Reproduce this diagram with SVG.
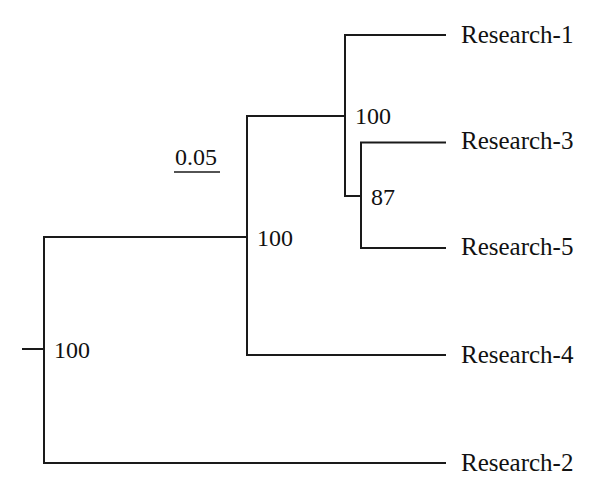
<svg xmlns="http://www.w3.org/2000/svg" width="600" height="494" viewBox="0 0 600 494">
<style>
.e{fill:none;stroke:#1a1a1a;stroke-width:2;stroke-linecap:square}
text{font-family:"Liberation Serif","Times New Roman",serif;font-size:24px;fill:#111}
.lf{font-size:25px}
</style>
<rect width="600" height="494" fill="#fff"/>
<g id="connectors">
<path class="e" d="M23,349H44M44,237V463M44,237H247M44,463H445"/>
<path class="e" d="M247,116V355M247,355H445M247,116H345"/>
<path class="e" d="M345,35V196M345,35H445M345,196H361"/>
<path class="e" d="M361,142.5V248M361,142.5H445M361,248H445"/>
</g>
<g id="scale"><text x="175" y="165">0.05</text><line x1="174" y1="172" x2="220" y2="172" stroke="#1a1a1a" stroke-width="1.5"/></g>
<g id="n-root"><text x="54" y="358">100</text></g>
<g id="n-a"><text x="257" y="246">100</text></g>
<g id="n-b"><text x="355" y="124">100</text></g>
<g id="n-c"><text x="371" y="205">87</text></g>
<g id="leaf1"><text class="lf" x="461" y="43">Research-1</text></g>
<g id="leaf3"><text class="lf" x="461" y="149">Research-3</text></g>
<g id="leaf5"><text class="lf" x="461" y="255">Research-5</text></g>
<g id="leaf4"><text class="lf" x="461" y="363">Research-4</text></g>
<g id="leaf2"><text class="lf" x="461" y="471">Research-2</text></g>
</svg>
